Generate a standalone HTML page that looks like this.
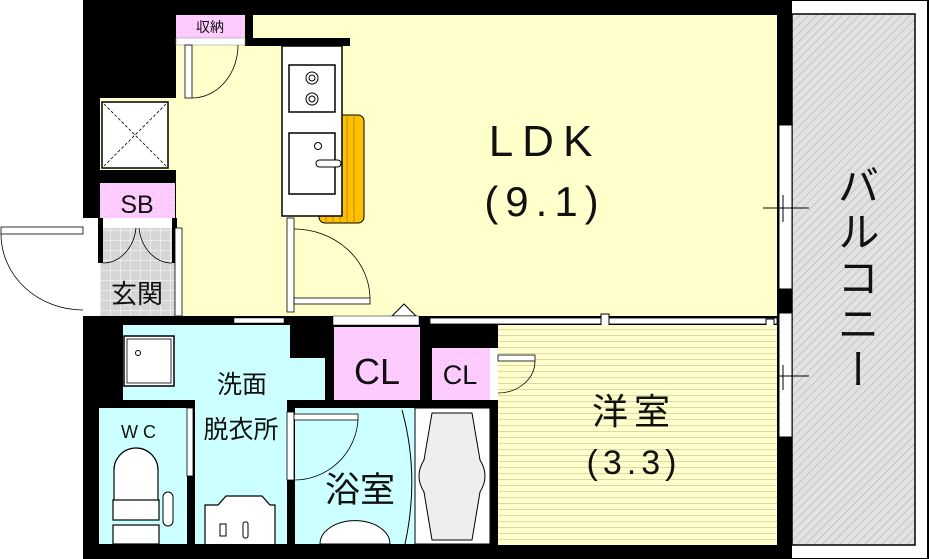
<!DOCTYPE html>
<html><head><meta charset="utf-8"><style>
html,body{margin:0;padding:0;background:#fff;width:930px;height:559px;overflow:hidden;position:relative}
text{font-family:"Liberation Sans","Noto Sans CJK JP",sans-serif;fill:#111}
#bal{position:absolute;left:835px;top:164px;writing-mode:vertical-rl;font-family:"Noto Sans CJK JP",sans-serif;font-size:42px;line-height:46px;letter-spacing:4px;color:#111}
</style></head><body>
<svg width="930" height="559" viewBox="0 0 930 559" xmlns="http://www.w3.org/2000/svg">
<defs>
<pattern id="hat" width="6" height="6" patternUnits="userSpaceOnUse" patternTransform="rotate(45)">
<rect width="6" height="6" fill="#e2e2e2"/><line x1="0" y1="0" x2="0" y2="6" stroke="#bbb" stroke-width="1.5"/></pattern>
<pattern id="str" width="6" height="6" patternUnits="userSpaceOnUse">
<rect width="6" height="6" fill="#ffffcc"/><line x1="0" y1="5.5" x2="6" y2="5.5" stroke="#d8d8a8" stroke-width="1"/></pattern>
<pattern id="tile" width="10" height="10" patternUnits="userSpaceOnUse">
<rect width="10" height="10" fill="#d6d6d6"/><path d="M0 0H10M0 0V10" stroke="#fff" stroke-width="1"/></pattern>
<pattern id="pk" width="4" height="4" patternUnits="userSpaceOnUse"><rect width="4" height="4" fill="#ffccff"/><rect width="1" height="1" fill="#f4b8f4"/></pattern>
</defs>
<rect x="780" y="0" width="148" height="559" fill="#fff" stroke="#000" stroke-width="2"/>
<rect x="792" y="14" width="123" height="531" fill="url(#hat)" stroke="#000" stroke-width="1.5"/>
<rect x="83" y="0" width="709" height="559" fill="#000"/>
<rect x="83" y="218" width="17" height="98" fill="#fff"/>
<rect x="253" y="15" width="524" height="301" fill="#ffffcc"/>
<rect x="176" y="45" width="110" height="271" fill="#ffffcc"/>
<rect x="245" y="38" width="105" height="8" fill="#000"/>
<rect x="176" y="15" width="69" height="23" fill="url(#pk)"/>
<text x="210" y="32" font-size="14" text-anchor="middle">収納</text>
<rect x="176" y="38" width="69" height="7" fill="#fff" stroke="#888" stroke-width=".5"/>
<rect x="185" y="45" width="7" height="53" fill="#fff" stroke="#000" stroke-width=".8"/>
<path d="M192 98 A46 53 0 0 0 238 45" fill="none" stroke="#000" stroke-width=".8"/>
<rect x="100" y="98" width="76" height="72" fill="#ffffcc"/>
<rect x="102" y="102" width="66" height="66" fill="#fff" stroke="#000" stroke-width="1.5"/>
<path d="M104 104L166 166M166 104L104 166" stroke="#000" stroke-dasharray="3,2" stroke-width=".8"/>
<rect x="100" y="183" width="75" height="35" fill="url(#pk)"/>
<text x="137" y="213" font-size="25" text-anchor="middle">SB</text>
<rect x="100" y="218" width="75" height="98" fill="url(#tile)"/>
<rect x="100" y="218" width="75" height="10" fill="#fff"/>
<rect x="98" y="218" width="5" height="45" fill="#000"/><rect x="172" y="218" width="5" height="45" fill="#000"/>
<path d="M103 263A33 40 0 0 0 136 228M172 263A33 40 0 0 1 139 228" fill="none" stroke="#000" stroke-width=".8"/>
<text x="137" y="303" font-size="26" text-anchor="middle">玄関</text>
<rect x="175" y="228" width="7" height="88" fill="#fff" stroke="#000" stroke-width=".8"/>
<rect x="1" y="227" width="82" height="7" fill="#fff" stroke="#000" stroke-width=".8"/>
<path d="M1 234A82 76 0 0 0 83 310" fill="none" stroke="#000" stroke-width=".8"/>
<rect x="319" y="115" width="45" height="108" rx="6" fill="#ffc000" stroke="#000" stroke-width="1"/>
<path d="M326 115V223M333 115V223M340 115V223M347 115V223M354 115V223" stroke="#a07000" stroke-width=".7"/>
<rect x="282" y="46" width="60" height="170" fill="#fff" stroke="#000" stroke-width="1.5"/>
<rect x="289" y="65" width="46" height="47" fill="#fff" stroke="#000" stroke-width="1.5"/>
<circle cx="312" cy="78" r="6" fill="none" stroke="#000"/><circle cx="312" cy="78" r="3" fill="none" stroke="#000"/>
<circle cx="312" cy="99" r="6" fill="none" stroke="#000"/><circle cx="312" cy="99" r="3" fill="none" stroke="#000"/>
<rect x="289" y="133" width="46" height="61" fill="#fff" stroke="#000" stroke-width="1.5"/>
<circle cx="318" cy="146" r="3.5" fill="none" stroke="#000"/>
<rect x="316" y="160" width="25" height="7" rx="3.5" fill="#fff" stroke="#000"/>
<rect x="287" y="218" width="7" height="94" fill="#fff" stroke="#000" stroke-width=".8"/>
<rect x="294" y="298" width="76" height="6" fill="#fff" stroke="#000" stroke-width=".8"/>
<path d="M294 229A76 70 0 0 1 370 298" fill="none" stroke="#000" stroke-width=".8"/>
<text x="545" y="156" font-size="44" text-anchor="middle" letter-spacing="9">LDK</text>
<text x="545" y="216" font-size="42" text-anchor="middle" letter-spacing="7">(9.1)</text>
<rect x="779" y="125" width="13" height="164" fill="#fff" stroke="#000"/>
<rect x="779" y="313" width="13" height="124" fill="#fff" stroke="#000"/>
<path d="M763 208H809M783 195V222M763 376H809M783 365V390" stroke="#000" stroke-width="1"/>
<rect x="430" y="318" width="347" height="6" fill="#fff" stroke="#000" stroke-width=".8"/>
<rect x="601" y="314" width="8" height="14" fill="#fff" stroke="#000"/>
<rect x="766" y="319" width="8" height="8" fill="#fff" stroke="#000"/>
<path d="M392 316L404 304L416 316Z" fill="#fff" stroke="#000"/>
<rect x="333" y="316" width="86" height="9" fill="#fff" stroke="#000" stroke-width=".5"/>
<rect x="498" y="325" width="279" height="220" fill="url(#str)"/>
<text x="634" y="424" font-size="36" text-anchor="middle" letter-spacing="6">洋室</text>
<text x="634" y="474" font-size="34" text-anchor="middle" letter-spacing="5">(3.3)</text>
<rect x="334" y="327" width="86" height="73" fill="url(#pk)"/>
<text x="377" y="384" font-size="36" text-anchor="middle">CL</text>
<rect x="432" y="348" width="63" height="52" fill="url(#pk)"/>
<text x="460" y="384" font-size="27" text-anchor="middle">CL</text>
<rect x="490" y="348" width="8" height="52" fill="#fff"/>
<rect x="498" y="355" width="37" height="6" fill="#fff" stroke="#000" stroke-width=".8"/>
<path d="M498 393A37 32 0 0 0 535 361" fill="none" stroke="#000" stroke-width=".8"/>
<rect x="123" y="325" width="167" height="75" fill="#ccffff"/>
<rect x="290" y="358" width="35" height="42" fill="#ccffff"/>
<rect x="195" y="400" width="92" height="144" fill="#ccffff"/>
<rect x="234" y="318" width="50" height="5" fill="#fff" stroke="#000" stroke-width=".5"/>
<rect x="124" y="336" width="50" height="50" fill="#fff" stroke="#000" stroke-width="1.5"/>
<rect x="127" y="339" width="44" height="44" fill="#fff" stroke="#000" stroke-width=".8"/>
<circle cx="138" cy="353" r="2.5" fill="none" stroke="#000"/>
<text x="242" y="393" font-size="25" text-anchor="middle">洗面</text>
<text x="241" y="438" font-size="25" text-anchor="middle">脱衣所</text>
<path d="M205 544V505H218L226 496H262L270 505H275V544" fill="#fff" stroke="#000" stroke-width="1.2"/>
<rect x="220" y="524" width="6" height="12" fill="#fff" stroke="#000"/>
<rect x="243" y="522" width="5" height="16" rx="2" fill="#fff" stroke="#000"/>
<rect x="99" y="408" width="88" height="136" fill="#ccffff"/>
<rect x="187" y="408" width="6" height="68" fill="#fff" stroke="#000" stroke-width=".8"/>
<text x="141" y="438" font-size="18" text-anchor="middle" letter-spacing="5">WC</text>
<path d="M114 500V470A22 22 0 0 1 158 470V500" fill="#fff" stroke="#000" stroke-width="1.2"/>
<rect x="113" y="500" width="46" height="20" fill="#fff" stroke="#000" stroke-width="1.2"/>
<rect x="113" y="525" width="46" height="19" fill="#fff" stroke="#000" stroke-width="1.2"/>
<rect x="163" y="492" width="10" height="34" rx="5" fill="#fff" stroke="#000"/>
<rect x="295" y="408" width="120" height="136" fill="#ccffff"/>
<text x="360" y="502" font-size="35" text-anchor="middle">浴室</text>
<rect x="287" y="412" width="7" height="68" fill="#fff" stroke="#000" stroke-width=".8"/>
<rect x="294" y="414" width="64" height="6" fill="#fff" stroke="#000" stroke-width=".8"/>
<path d="M294 480A64 64 0 0 0 358 420" fill="none" stroke="#000" stroke-width=".8"/>
<path d="M402 410Q420 475 405 544" fill="none" stroke="#000"/>
<path d="M320 544A30 20 0 0 1 390 544Z" fill="#fff" stroke="#000"/>
<rect x="415" y="408" width="75" height="136" fill="#fff" stroke="#000"/>
<path d="M432 413H472L480 460Q490 476 480 492L472 540H432L424 492Q414 476 424 460Z" fill="#eee" stroke="#000"/>
<rect x="83" y="545" width="709" height="14" fill="#000"/>
</svg>
<div id="bal">バルコニー</div>
</body></html>
